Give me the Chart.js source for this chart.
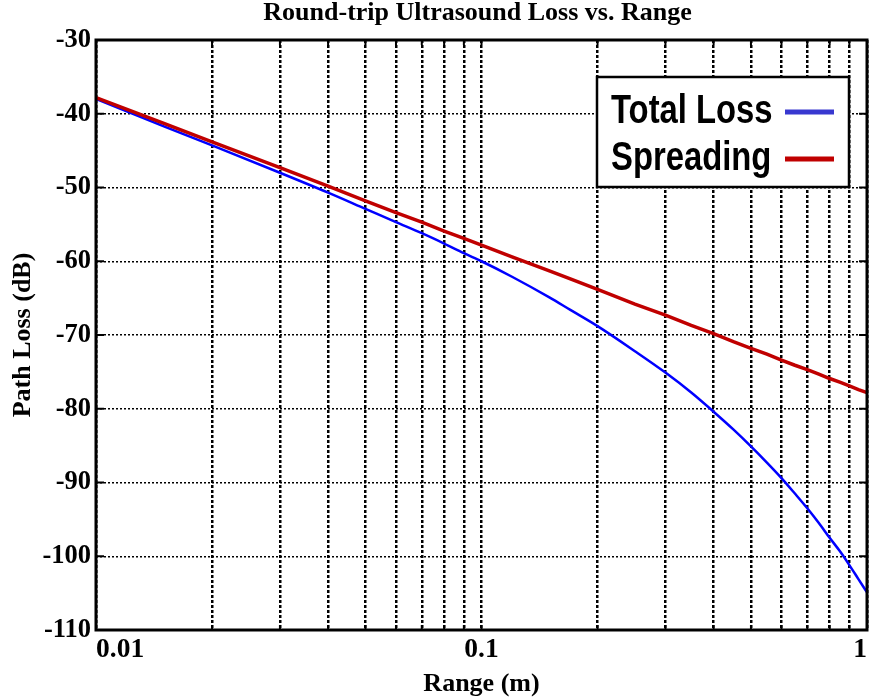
<!DOCTYPE html>
<html>
<head>
<meta charset="utf-8">
<script src="https://cdn.jsdelivr.net/npm/chart.js@4.4.1/dist/chart.umd.min.js"></script>
<style>
  html, body { margin: 0; padding: 0; background: #ffffff; }
  #wrap { width: 870px; height: 700px; }
</style>
</head>
<body>
<div id="wrap"><canvas id="c" width="870" height="700"></canvas></div>
<script>
// Range samples (m) and the two loss curves (dB)
const rangeM = [0.01, 0.015, 0.02, 0.03, 0.04, 0.05, 0.06, 0.07, 0.08, 0.09, 0.1,
                0.12, 0.15, 0.17, 0.2, 0.25, 0.3, 0.35, 0.4, 0.45, 0.5, 0.55,
                0.6, 0.65, 0.7, 0.75, 0.8, 0.85, 0.9, 0.95, 1.0];
const totalLossDb = [-38.0, -41.7, -44.3, -48.0, -50.7, -52.9, -54.7, -56.2, -57.6, -58.9, -60.0,
                     -62.1, -64.9, -66.6, -68.8, -72.2, -75.1, -77.8, -80.4, -82.8, -85.1, -87.3,
                     -89.4, -91.5, -93.5, -95.5, -97.5, -99.3, -101.2, -103.1, -104.9];
const spreadingDb = [-37.8, -41.3, -43.8, -47.3, -49.8, -51.8, -53.4, -54.7, -55.9, -56.9, -57.8,
                     -59.4, -61.3, -62.4, -63.8, -65.8, -67.3, -68.7, -69.8, -70.9, -71.8, -72.6,
                     -73.4, -74.1, -74.7, -75.3, -75.9, -76.4, -76.9, -77.4, -77.8];

const seriesLabels = ['Total Loss', 'Spreading'];
const seriesColors = ['#0000ff', '#c00000'];
const legendColors = ['#3838d0', '#c00000'];

// Axis ticks
const xTickValues = [0.01, 0.02, 0.03, 0.04, 0.05, 0.06, 0.07, 0.08, 0.09,
                     0.1, 0.2, 0.3, 0.4, 0.5, 0.6, 0.7, 0.8, 0.9, 1];
const xTickLabels = [[0.01, '0.01'], [0.1, '0.1'], [1, '1']];
const yMin = -110, yMax = -30, yStep = 10;

const chartTitle = 'Round-trip Ultrasound Loss vs. Range';
const xTitle = 'Range (m)';
const yTitle = 'Path Loss (dB)';

const serifBold = (size) => ({ family: "'Liberation Serif', 'Times New Roman', serif", size: size, weight: 'bold' });

const toPoints = (ys) => rangeM.map((x, i) => ({ x: x, y: ys[i] }));

// White page background
const bgPlugin = {
  id: 'bg',
  beforeDraw(chart) {
    const ctx = chart.ctx;
    ctx.save();
    ctx.fillStyle = '#ffffff';
    ctx.fillRect(0, 0, chart.width, chart.height);
    ctx.restore();
  }
};

// Title centred over the plot area
const titlePlugin = {
  id: 'plotTitle',
  afterDraw(chart) {
    const ctx = chart.ctx, a = chart.chartArea;
    ctx.save();
    ctx.font = "bold 26px 'Liberation Serif', 'Times New Roman', serif";
    ctx.fillStyle = '#000';
    ctx.textAlign = 'center';
    ctx.textBaseline = 'alphabetic';
    ctx.fillText(chartTitle, (a.left + a.right) / 2 - 4, 20);
    ctx.restore();
  }
};

// Box frame with inward tick marks on all four sides
const framePlugin = {
  id: 'frame',
  afterDatasetsDraw(chart) {
    const ctx = chart.ctx, a = chart.chartArea;
    const xs = chart.scales.x, ys = chart.scales.y;
    ctx.save();
    ctx.strokeStyle = '#000';
    ctx.lineWidth = 2;
    ctx.setLineDash([]);
    ctx.beginPath();
    xTickValues.forEach(v => {
      const px = xs.getPixelForValue(v);
      ctx.moveTo(px, a.bottom); ctx.lineTo(px, a.bottom - 5);
      ctx.moveTo(px, a.top); ctx.lineTo(px, a.top + 5);
    });
    for (let v = yMin; v <= yMax; v += yStep) {
      const py = ys.getPixelForValue(v);
      ctx.moveTo(a.left, py); ctx.lineTo(a.left + 8, py);
      ctx.moveTo(a.right, py); ctx.lineTo(a.right - 8, py);
    }
    ctx.stroke();
    ctx.lineWidth = 3;
    ctx.strokeRect(a.left, a.top, a.right - a.left, a.bottom - a.top);
    ctx.restore();
  }
};

// Boxed legend: label text first, line sample after it
const legendPlugin = {
  id: 'boxLegend',
  afterDraw(chart) {
    const ctx = chart.ctx;
    const box = { x: 597, y: 77, w: 252, h: 110 };
    ctx.save();
    ctx.fillStyle = '#ffffff';
    ctx.fillRect(box.x, box.y, box.w, box.h);
    ctx.strokeStyle = '#000';
    ctx.lineWidth = 2.5;
    ctx.strokeRect(box.x, box.y, box.w, box.h);
    const rows = [123, 170];
    seriesLabels.forEach((label, i) => {
      ctx.save();
      ctx.translate(611, rows[i]);
      ctx.scale(0.82, 1);
      ctx.font = "bold 40px 'Liberation Sans', Arial, sans-serif";
      ctx.fillStyle = '#000';
      ctx.textAlign = 'left';
      ctx.textBaseline = 'alphabetic';
      ctx.fillText(label, 0, 0);
      ctx.restore();
      ctx.strokeStyle = legendColors[i];
      ctx.lineWidth = 5;
      ctx.beginPath();
      ctx.moveTo(785, rows[i] - 11);
      ctx.lineTo(834, rows[i] - 11);
      ctx.stroke();
    });
    ctx.restore();
  }
};

const chart = new Chart(document.getElementById('c'), {
  type: 'line',
  data: {
    datasets: [
      {
        label: seriesLabels[1],
        data: toPoints(spreadingDb),
        borderColor: seriesColors[1],
        borderWidth: 3.5,
        pointRadius: 0,
        tension: 0,
        order: 0
      },
      {
        label: seriesLabels[0],
        data: toPoints(totalLossDb),
        borderColor: seriesColors[0],
        borderWidth: 2.5,
        pointRadius: 0,
        cubicInterpolationMode: 'monotone',
        order: 1
      }
    ]
  },
  options: {
    responsive: false,
    animation: false,
    devicePixelRatio: 1,
    layout: { padding: { top: 40, right: 3, left: 0, bottom: 0 } },
    plugins: {
      legend: { display: false },
      title: { display: false },
      tooltip: { enabled: false }
    },
    scales: {
      x: {
        type: 'logarithmic',
        min: 0.01,
        max: 1,
        afterBuildTicks(scale) {
          scale.ticks = xTickValues.map(v => ({ value: v }));
        },
        afterFit(scale) { scale.height = 70; },
        grid: { color: '#000', lineWidth: 2.5, drawTicks: false },
        border: { display: false, dash: [3, 2] },
        ticks: {
          autoSkip: false,
          maxRotation: 0,
          minRotation: 0,
          align: 'inner',
          padding: 3,
          color: '#000',
          font: serifBold(27.5),
          callback(value) {
            const hit = xTickLabels.find(t => Math.abs(t[0] - value) < 1e-9);
            return hit ? hit[1] : '';
          }
        },
        title: {
          display: true,
          text: xTitle,
          color: '#000',
          font: serifBold(26),
          padding: { top: 0, bottom: 0 }
        }
      },
      y: {
        type: 'linear',
        min: yMin,
        max: yMax,
        afterFit(scale) { scale.width = 96; },
        grid: { color: '#000', lineWidth: 1.5, drawTicks: false },
        border: { display: false, dash: [2, 2] },
        ticks: {
          stepSize: yStep,
          padding: 5,
          color: '#000',
          font: serifBold(26.5)
        },
        title: {
          display: true,
          text: yTitle,
          color: '#000',
          font: serifBold(26),
          padding: { top: 8, bottom: 0 }
        }
      }
    }
  },
  plugins: [bgPlugin, titlePlugin, framePlugin, legendPlugin]
});
</script>
</body>
</html>
